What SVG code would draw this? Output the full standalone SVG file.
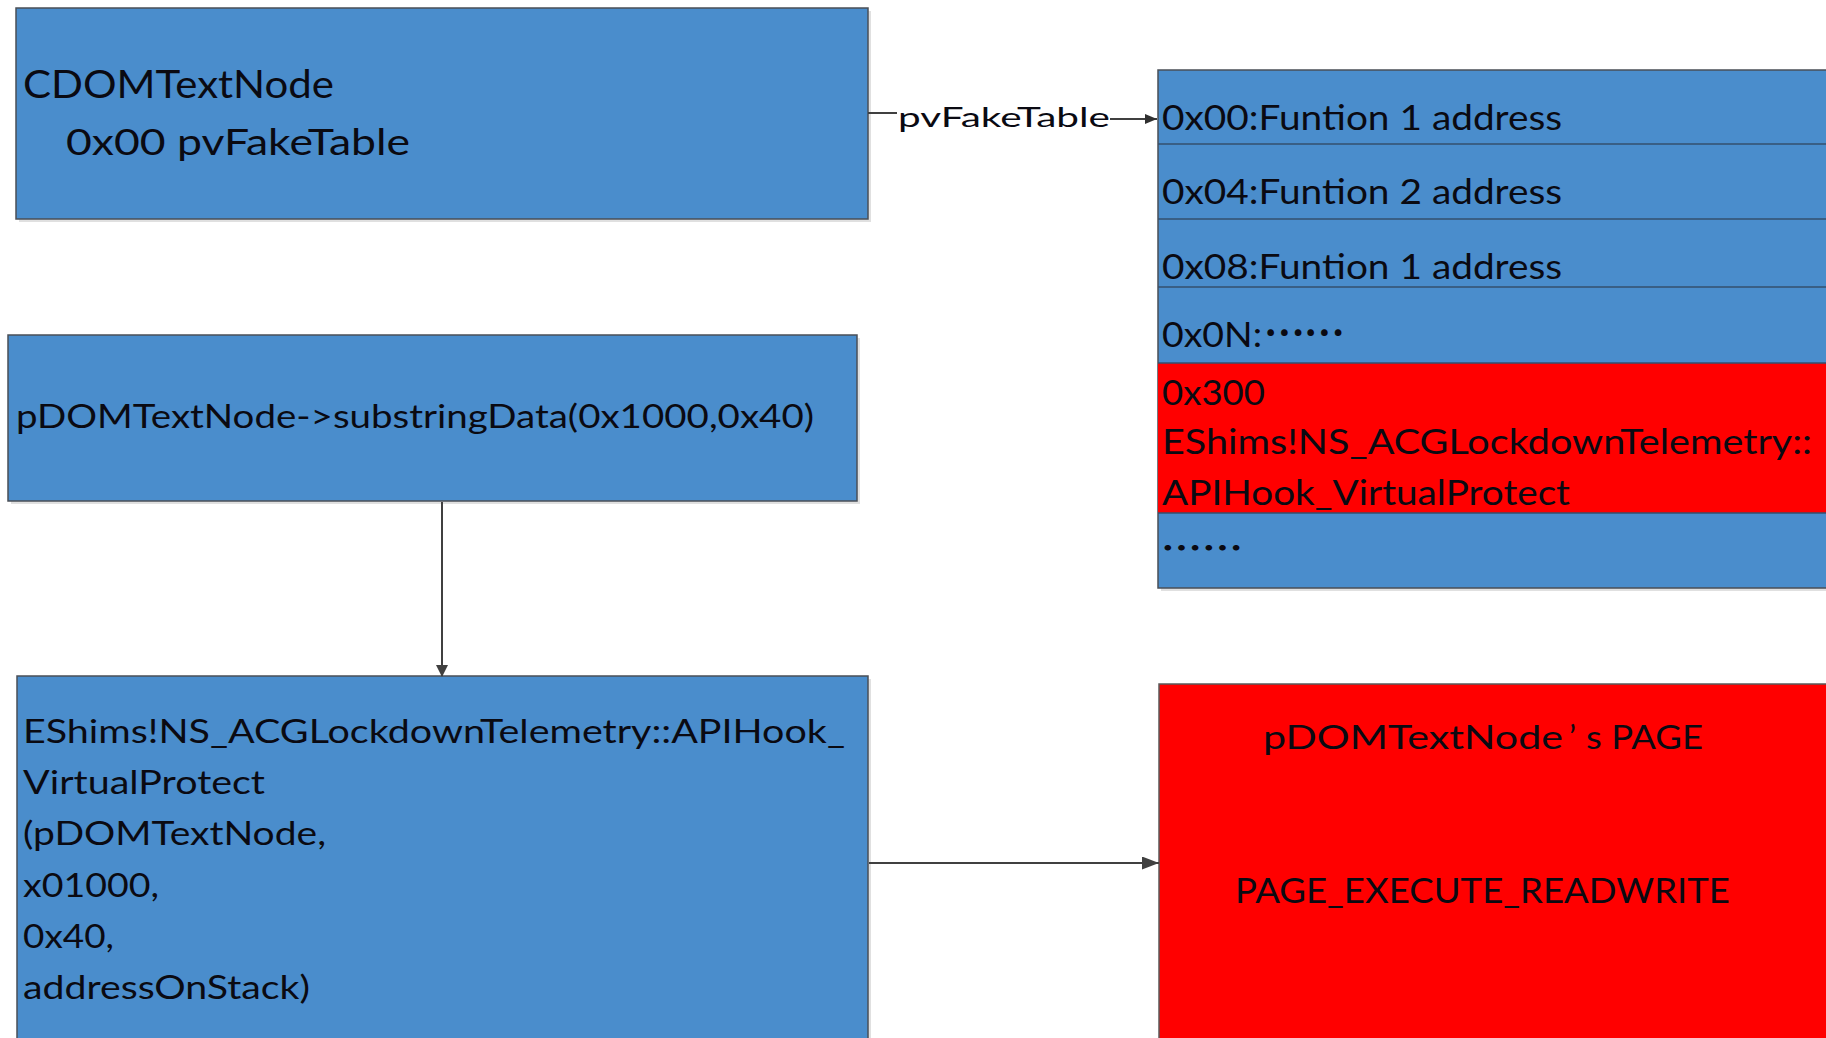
<svg xmlns="http://www.w3.org/2000/svg" width="1826" height="1038" viewBox="0 0 1826 1038">
  <style>
    .blue { fill: #4A8DCC; stroke: #4a4f57; stroke-width: 1.5; }
    .red { fill: #FF0000; stroke: #5a5a5a; stroke-width: 1.5; }
    .shadow { fill: #000; opacity: 0.12; }
    .div { stroke: #34506e; stroke-width: 1.5; }
    .t { font-family: Lato, "Open Sans", "Noto Sans", sans-serif; fill: #0a0a12; }
    .dots { font-family: "Noto Sans CJK SC", "Noto Sans", sans-serif; font-weight: bold; fill: #0a0a12; }
    .conn { stroke: #404040; stroke-width: 2; fill: none; }
  </style>
  <defs>
    <marker id="arrowV" markerWidth="12" markerHeight="16" refX="11" refY="6" orient="auto" markerUnits="userSpaceOnUse" viewBox="0 0 12 12">
      <path d="M0,0 L12,6 L0,12 Z" fill="#404040"/>
    </marker>
    <marker id="arrowH" markerWidth="17" markerHeight="13" refX="17" refY="6.5" orient="auto" markerUnits="userSpaceOnUse" viewBox="0 0 17 13">
      <path d="M0,0 L17,6.5 L0,13 Z" fill="#404040"/>
    </marker>
    <marker id="arrowS" markerWidth="12" markerHeight="10" refX="12" refY="5" orient="auto" markerUnits="userSpaceOnUse" viewBox="0 0 12 10">
      <path d="M0,0 L12,5 L0,10 Z" fill="#303030"/>
    </marker>
  </defs>

  <rect width="1826" height="1038" fill="#ffffff"/>

  <!-- text node object -->
  <g id="cdomtextnode">
    <rect class="shadow" x="19" y="11" width="852" height="211"/>
    <rect class="blue" x="16" y="8" width="852" height="211"/>
    <text class="t" font-size="39"><tspan x="23" y="98" textLength="311" lengthAdjust="spacingAndGlyphs">CDOMTextNode</tspan></text>
    <text class="t" font-size="37"><tspan x="66" y="155" textLength="344" lengthAdjust="spacingAndGlyphs">0x00 pvFakeTable</tspan></text>
  </g>

  <!-- fake vtable -->
  <g id="fake-table">
    <rect class="shadow" x="1161" y="73" width="700" height="518"/>
    <rect class="blue" x="1158" y="70" width="700" height="518"/>
    <rect x="1158" y="363" width="700" height="150" fill="#FF0000"/>
    <line class="div" x1="1158" y1="144" x2="1858" y2="144"/>
    <line class="div" x1="1158" y1="219" x2="1858" y2="219"/>
    <line class="div" x1="1158" y1="287" x2="1858" y2="287"/>
    <line class="div" x1="1158" y1="363" x2="1858" y2="363"/>
    <line class="div" x1="1158" y1="513" x2="1858" y2="513"/>
    <text class="t" font-size="35"><tspan x="1162" y="130" textLength="400" lengthAdjust="spacingAndGlyphs">0x00:Funtion 1 address</tspan></text>
    <text class="t" font-size="35"><tspan x="1162" y="204" textLength="400" lengthAdjust="spacingAndGlyphs">0x04:Funtion 2 address</tspan></text>
    <text class="t" font-size="35"><tspan x="1162" y="279" textLength="400" lengthAdjust="spacingAndGlyphs">0x08:Funtion 1 address</tspan></text>
    <text class="t" font-size="35"><tspan x="1162" y="347" textLength="100" lengthAdjust="spacingAndGlyphs">0x0N:</tspan><tspan class="dots" x="1264" y="336" textLength="80" lengthAdjust="spacingAndGlyphs">……</tspan></text>
    <text class="t" font-size="35"><tspan x="1162" y="405" textLength="103" lengthAdjust="spacingAndGlyphs">0x300</tspan></text>
    <text class="t" font-size="35"><tspan x="1162" y="454" textLength="650" lengthAdjust="spacingAndGlyphs">EShims!NS_ACGLockdownTelemetry::</tspan></text>
    <text class="t" font-size="35"><tspan x="1162" y="505" textLength="408" lengthAdjust="spacingAndGlyphs">APIHook_VirtualProtect</tspan></text>
    <text class="dots" font-size="34"><tspan x="1161" y="561" textLength="82" lengthAdjust="spacingAndGlyphs">……</tspan></text>
  </g>

  <!-- substringData call -->
  <g id="substring-call">
    <rect class="shadow" x="11" y="338" width="849" height="166"/>
    <rect class="blue" x="8" y="335" width="849" height="166"/>
    <text class="t" font-size="32"><tspan x="16" y="428" textLength="798" lengthAdjust="spacingAndGlyphs">pDOMTextNode-&gt;substringData(0x1000,0x40)</tspan></text>
  </g>

  <!-- VirtualProtect hook call -->
  <g id="virtualprotect-call">
    <rect class="shadow" x="20" y="679" width="851" height="400"/>
    <rect class="blue" x="17" y="676" width="851" height="400"/>
    <text class="t" font-size="32">
      <tspan x="23" y="743" textLength="822" lengthAdjust="spacingAndGlyphs">EShims!NS_ACGLockdownTelemetry::APIHook_</tspan>
      <tspan x="23" y="794" textLength="242" lengthAdjust="spacingAndGlyphs">VirtualProtect</tspan>
      <tspan x="23" y="845" textLength="303" lengthAdjust="spacingAndGlyphs">(pDOMTextNode,</tspan>
      <tspan x="23" y="897" textLength="136" lengthAdjust="spacingAndGlyphs">x01000,</tspan>
      <tspan x="23" y="948" textLength="91" lengthAdjust="spacingAndGlyphs">0x40,</tspan>
      <tspan x="23" y="999" textLength="287" lengthAdjust="spacingAndGlyphs">addressOnStack)</tspan>
    </text>
  </g>

  <!-- page protection result -->
  <g id="page-state">
    <rect class="red" x="1159" y="684" width="700" height="400"/>
    <text class="t" font-size="33"><tspan x="1263" y="749" textLength="300" lengthAdjust="spacingAndGlyphs">pDOMTextNode</tspan><tspan x="1569" y="749">’</tspan><tspan x="1586" y="749" textLength="117" lengthAdjust="spacingAndGlyphs">s PAGE</tspan></text>
    <text class="t" font-size="35"><tspan x="1235" y="903" textLength="495" lengthAdjust="spacingAndGlyphs">PAGE_EXECUTE_READWRITE</tspan></text>
  </g>

  <!-- connectors -->
  <g id="connectors">
    <line class="conn" x1="868" y1="113" x2="897" y2="113" stroke-width="1.5"/>
    <line class="conn" x1="1110" y1="119" x2="1157" y2="119" stroke-width="1.5" marker-end="url(#arrowS)"/>
    <text class="t" font-size="27" fill="#222"><tspan x="898" y="127" textLength="212" lengthAdjust="spacingAndGlyphs">pvFakeTable</tspan></text>
    <line class="conn" x1="442" y1="502" x2="442" y2="676" marker-end="url(#arrowV)"/>
    <line class="conn" x1="869" y1="863" x2="1159" y2="863" marker-end="url(#arrowH)"/>
  </g>
</svg>
